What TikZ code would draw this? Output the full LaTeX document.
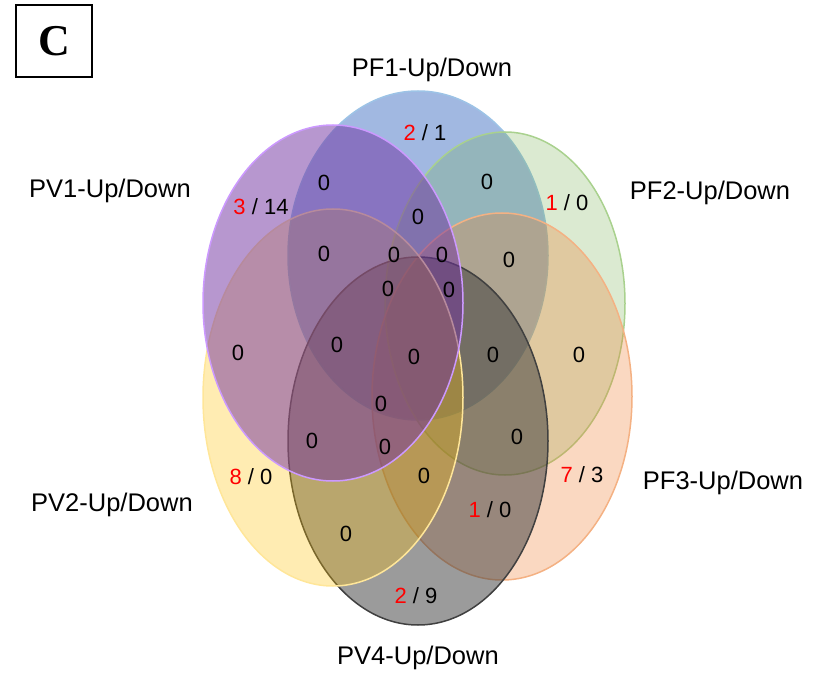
\documentclass[tikz,border=0pt]{standalone}
\usepackage{fontspec}
\setmainfont{Liberation Sans}
\newfontfamily\panelfont{Liberation Serif}
\usepackage{tikz}

\definecolor{pfone}{RGB}{68,114,196}
\definecolor{pfoneedge}{RGB}{157,195,230}
\definecolor{pftwo}{RGB}{112,173,71}
\definecolor{pftwoedge}{RGB}{169,209,142}
\definecolor{pfthree}{RGB}{237,125,49}
\definecolor{pfthreeedge}{RGB}{244,177,131}
\definecolor{pvfour}{RGB}{56,56,56}
\definecolor{pvfouredge}{RGB}{64,64,64}
\definecolor{pvtwo}{RGB}{255,192,0}
\definecolor{pvtwoedge}{RGB}{255,230,153}
\definecolor{pvone}{RGB}{112,48,160}
\definecolor{pvoneedge}{RGB}{204,153,255}

\tikzset{
  setlab/.style={font=\fontsize{25.5}{30}\selectfont, inner sep=0pt},
  cnt/.style={font=\fontsize{22}{26}\selectfont, inner sep=0pt},
  setfill/.style={line width=1.5pt, fill opacity=#1},
}
\newcommand{\updn}[2]{\textcolor{red}{#1} / #2}

\begin{document}
\begin{tikzpicture}[x=1pt,y=-1pt]
\useasboundingbox (0,0) rectangle (825,676);
% panel letter
\node[draw, line width=1.2pt, minimum width=76pt, minimum height=72pt] (panel) at (54,41)
  {\panelfont\bfseries\fontsize{44}{44}\selectfont C};
% the six sets
\draw[setfill=.5, fill=pfone, draw=pfoneedge] (418,255.5) ellipse [x radius=130pt, y radius=164.5pt];
\draw[setfill=.25, fill=pftwo, draw=pftwoedge] (505,303.5) ellipse [x radius=120pt, y radius=171.5pt];
\draw[setfill=.3, fill=pfthree, draw=pfthreeedge] (502,396.5) ellipse [x radius=130pt, y radius=183.5pt];
\draw[setfill=.5, fill=pvfour, draw=pvfouredge] (418,441) ellipse [x radius=130pt, y radius=184pt];
\draw[setfill=.3, fill=pvtwo, draw=pvtwoedge] (333,397.5) ellipse [x radius=130pt, y radius=188.5pt];
\draw[setfill=.5, fill=pvone, draw=pvoneedge] (333,303) ellipse [x radius=130pt, y radius=178pt];
% set names
\node[setlab] (pfonelab) at (432,70) {PF1-Up/Down};
\node[setlab] (pftwolab) at (710,193) {PF2-Up/Down};
\node[setlab] (pfthreelab) at (723,483) {PF3-Up/Down};
\node[setlab] (pvfourlab) at (418,658) {PV4-Up/Down};
\node[setlab] (pvtwolab) at (112,505) {PV2-Up/Down};
\node[setlab] (pvonelab) at (110,191) {PV1-Up/Down};
% counts, only one set
\node[cnt] (pfonly) at (425,133) {\updn{2}{1}};
\node[cnt] (pftwoonly) at (567,203) {\updn{1}{0}};
\node[cnt] (pfthreeonly) at (582,475) {\updn{7}{3}};
\node[cnt] (pvfouronly) at (416,596) {\updn{2}{9}};
\node[cnt] (pvtwoonly) at (251,477) {\updn{8}{0}};
\node[cnt] (pvoneonly) at (261,207) {\updn{3}{14}};
\node[cnt] (pfthreepvfour) at (490,510) {\updn{1}{0}};
% counts, the rest
\node[cnt] (ca) at (324,183) {0};
\node[cnt] (cb) at (487,182) {0};
\node[cnt] (cc) at (418,217) {0};
\node[cnt] (cd) at (324,254) {0};
\node[cnt] (ce) at (394,255) {0};
\node[cnt] (cf) at (442,255) {0};
\node[cnt] (cg) at (509,260) {0};
\node[cnt] (ch) at (388,289) {0};
\node[cnt] (ci) at (449,290) {0};
\node[cnt] (cj) at (238,353) {0};
\node[cnt] (ck) at (337,345) {0};
\node[cnt] (cl) at (414,357) {0};
\node[cnt] (cm) at (493,355) {0};
\node[cnt] (cn) at (579,355) {0};
\node[cnt] (co) at (381,404) {0};
\node[cnt] (cp) at (312,441) {0};
\node[cnt] (cq) at (385,447) {0};
\node[cnt] (cr) at (517,437) {0};
\node[cnt] (cs) at (424,476) {0};
\node[cnt] (ct) at (346,534) {0};
\end{tikzpicture}
\end{document}
